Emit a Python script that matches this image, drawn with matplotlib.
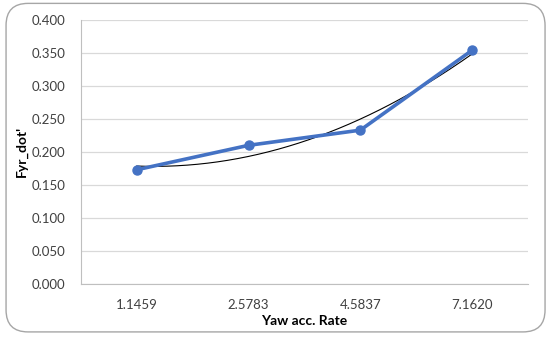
import matplotlib.pyplot as plt
from matplotlib.patches import FancyBboxPatch
import numpy as np

# data
categories = ['1.1459', '2.5783', '4.5837', '7.1620']
fyr_dot = [0.173, 0.210, 0.233, 0.354]
y_ticks = [0.0, 0.05, 0.10, 0.15, 0.20, 0.25, 0.30, 0.35, 0.40]

plt.rcParams['font.family'] = ['Lato', 'DejaVu Sans']

fig = plt.figure(figsize=(5.5, 3.38), dpi=100)

# rounded chart border
border = FancyBboxPatch((0.011, 0.018), 0.98, 0.972,
                        boxstyle='round,pad=0,rounding_size=0.04',
                        transform=fig.transFigure, fill=False,
                        edgecolor='#a6a6a6', linewidth=1.0,
                        mutation_aspect=550 / 338)
fig.patches.append(border)

ax = fig.add_axes([0.147, 0.160, 0.813, 0.781])

x = np.arange(1, len(categories) + 1)

# order-2 polynomial trendline (like Excel)
coef = np.polyfit(x, fyr_dot, 2)
xs = np.linspace(1, len(categories), 200)
ax.plot(xs, np.polyval(coef, xs), color='black', linewidth=0.8, zorder=3)

ax.plot(x, fyr_dot, color='#4472C4', linewidth=2.6, marker='o',
        markersize=6.5, zorder=4)

ax.set_xlim(0.5, len(categories) + 0.5)
ax.set_ylim(0, 0.4)
ax.set_xticks(x)
ax.set_xticklabels(categories)
ax.set_yticks(y_ticks)
ax.set_yticklabels(['%.3f' % v for v in y_ticks])
ax.tick_params(length=0, labelsize=9.5, colors='#404040')
ax.tick_params(axis='y', pad=11)
ax.tick_params(axis='x', pad=11)

ax.grid(axis='y', color='#d9d9d9', linewidth=0.9)
ax.set_axisbelow(True)
for side in ['top', 'right']:
    ax.spines[side].set_visible(False)
ax.spines['left'].set_color('#bfbfbf')
ax.spines['bottom'].set_color('#bfbfbf')

ax.set_xlabel('Yaw acc. Rate', fontsize=10, fontweight='bold', labelpad=3)
ax.set_ylabel("Fyr_dot'", fontsize=10, fontweight='bold', labelpad=3)

fig.savefig('out.png', dpi=100)
